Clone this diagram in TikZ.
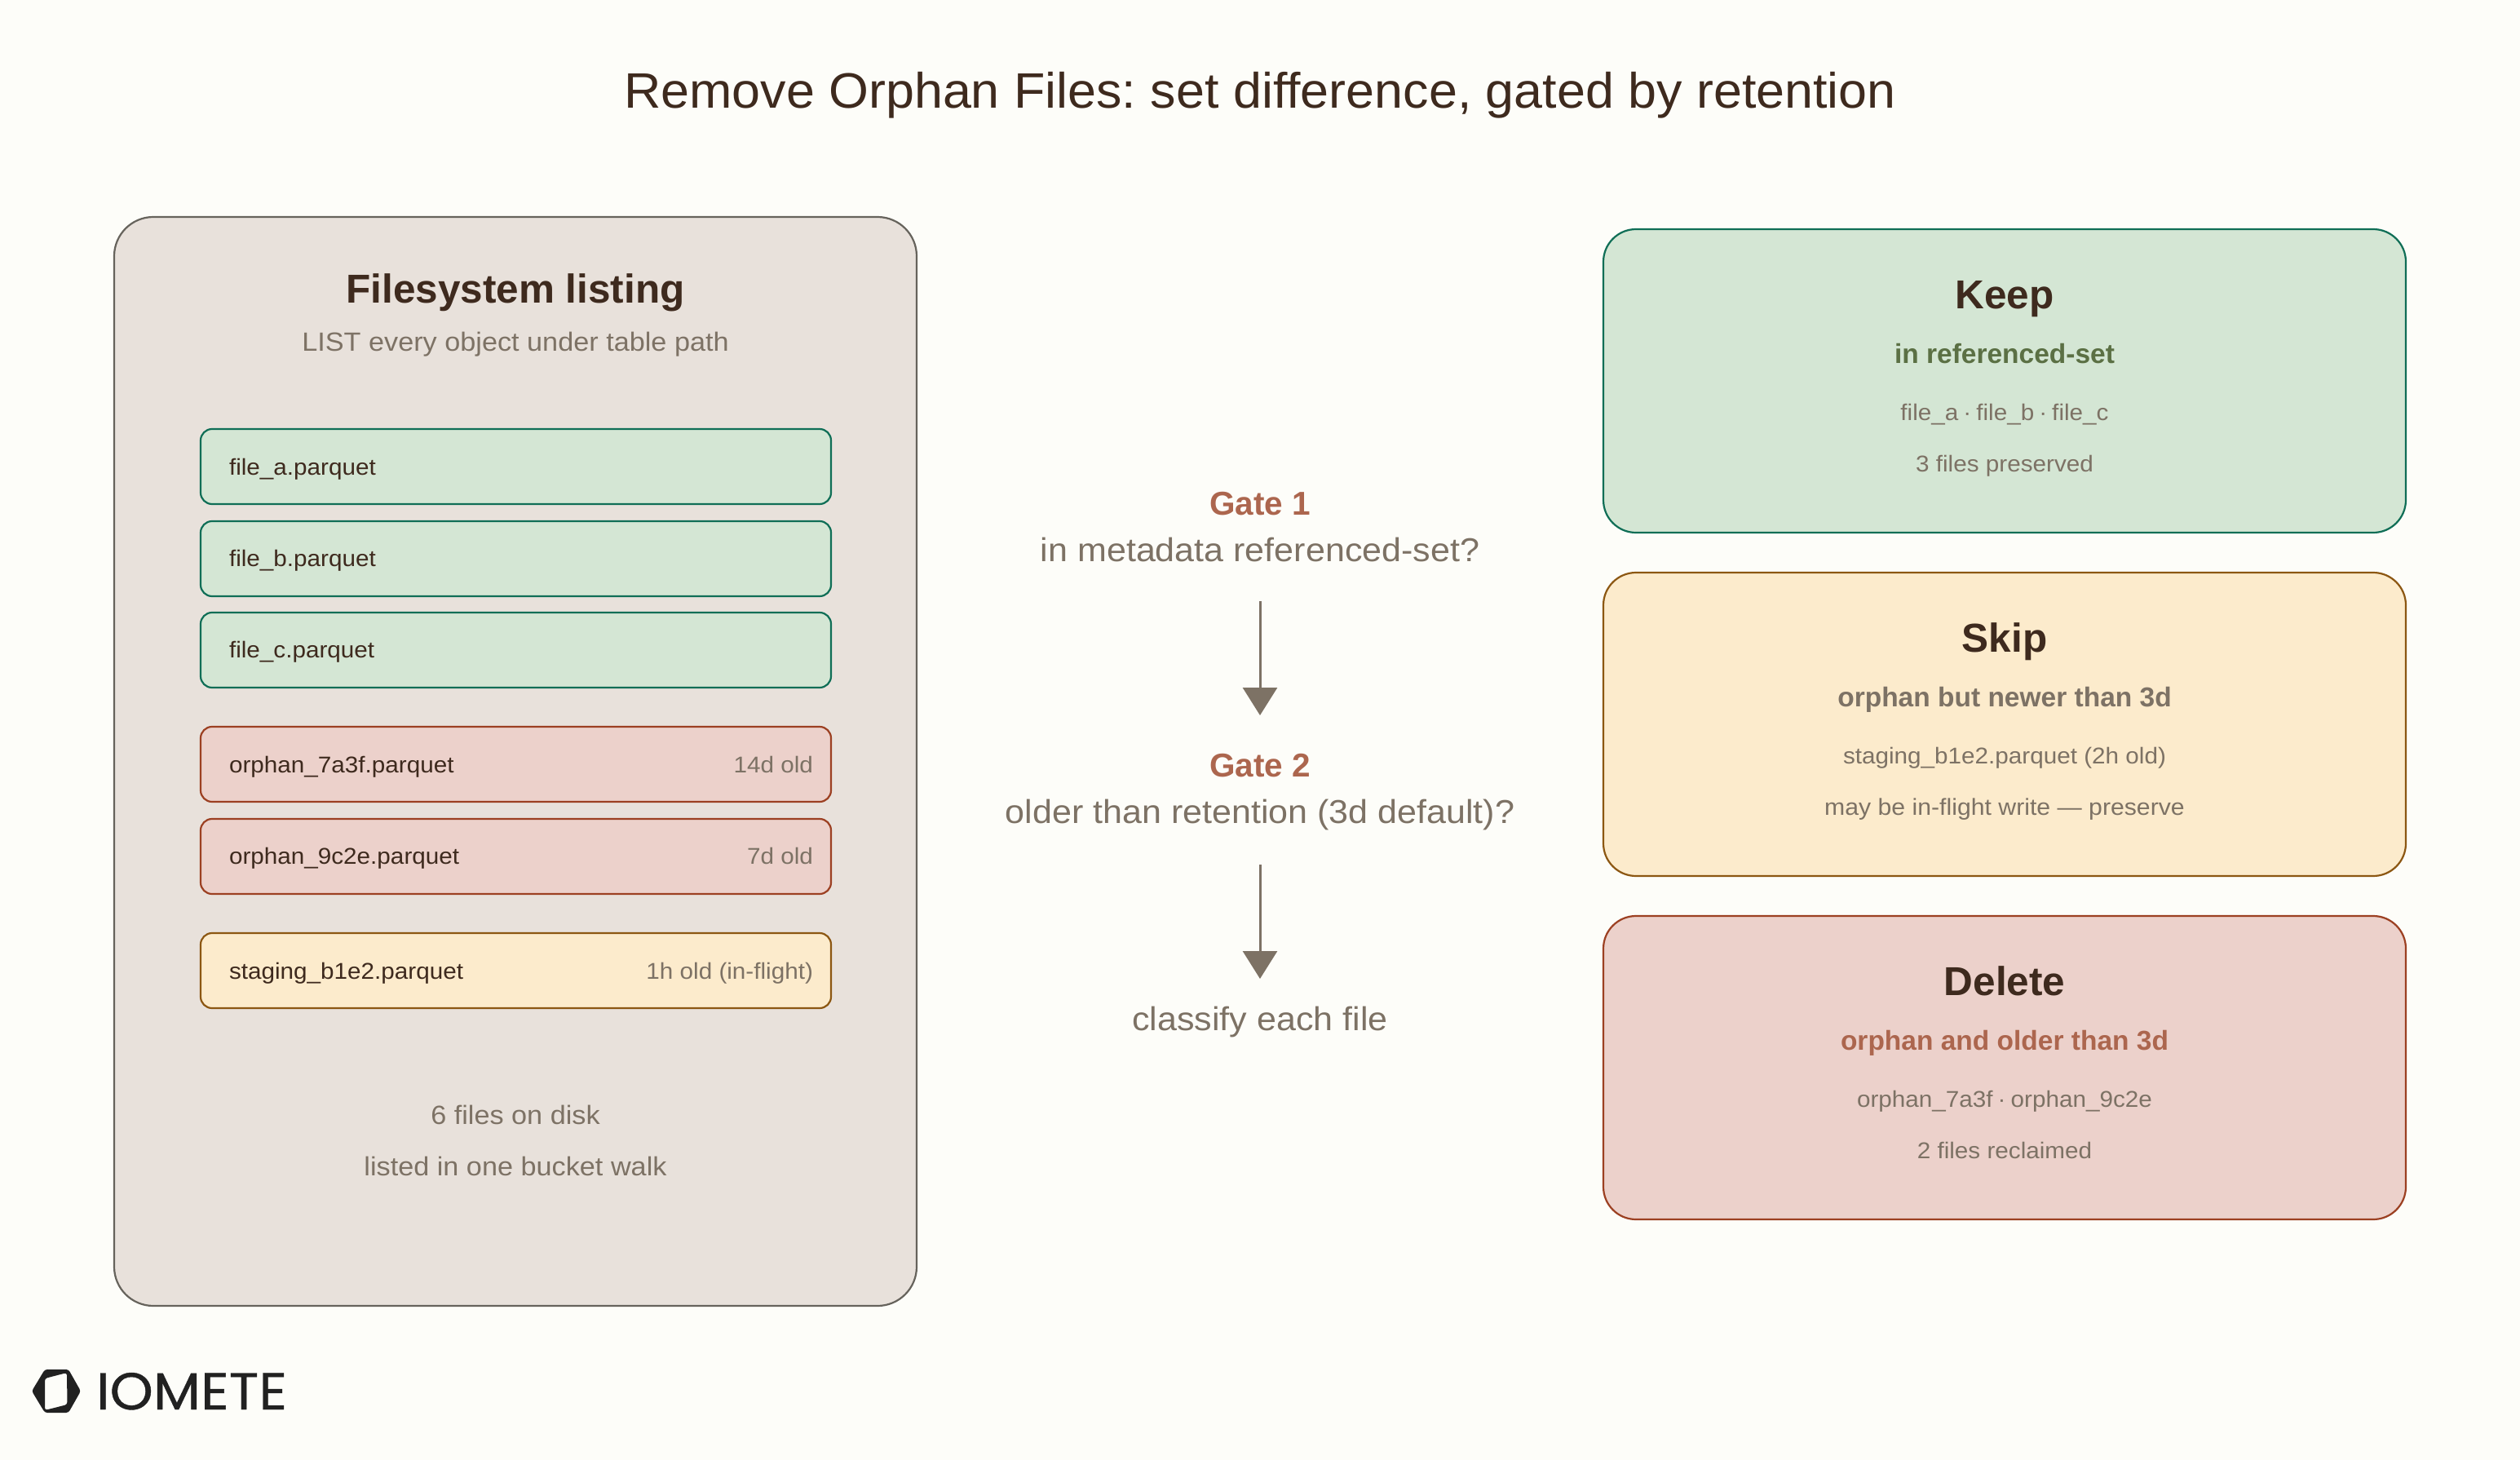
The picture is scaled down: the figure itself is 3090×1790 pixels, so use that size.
\documentclass[tikz,border=0pt]{standalone}
\usepackage{fontspec}
\setmainfont[FakeStretch=1.06]{Liberation Sans}
\newfontfamily\hb{Liberation Sans}
\newfontfamily\tf[FakeStretch=1.03]{Liberation Sans}
\newfontfamily\logofont[FakeBold=0.6]{Poppins}
\usetikzlibrary{arrows.meta}
\definecolor{bgc}{HTML}{FDFDF9}
\definecolor{ink}{HTML}{3E2A1E}
\definecolor{mut}{HTML}{7D7265}
\definecolor{clay}{HTML}{AC664E}
\definecolor{moss}{HTML}{5B7044}
\definecolor{panelf}{HTML}{E8E1DB}
\definecolor{panels}{HTML}{66635C}
\definecolor{grnf}{HTML}{D4E6D4}
\definecolor{grns}{HTML}{0F6E56}
\definecolor{redf}{HTML}{ECD1CB}
\definecolor{reds}{HTML}{9C4022}
\definecolor{ylwf}{HTML}{FCEBCC}
\definecolor{ylws}{HTML}{8C5712}
\newcommand{\mdot}{\kern-2.2pt·\kern-2.2pt}
\tikzset{
  x=1pt,y=-1pt,
  boxbase/.style={rectangle,inner sep=0pt,outer sep=0pt,anchor=north west,line width=2.2pt},
  panelbox/.style={boxbase,draw=panels,fill=panelf,minimum width=984pt,minimum height=1335pt,rounded corners=48pt},
  filebox/.style={boxbase,minimum width=773pt,minimum height=92pt,rounded corners=14pt},
  outbox/.style={boxbase,minimum width=984pt,minimum height=372pt,rounded corners=40pt},
  grn/.style={draw=grns,fill=grnf},
  red/.style={draw=reds,fill=redf},
  ylw/.style={draw=ylws,fill=ylwf},
  tx/.style={inner sep=0pt,outer sep=0pt,anchor=base},
  titletx/.style={tx,text=ink,font=\tf\fontsize{61}{66}\selectfont},
  headtx/.style={tx,text=ink,font=\hb\fontsize{49.5}{56}\selectfont\bfseries},
  subtx/.style={tx,font=\hb\fontsize{33.5}{38}\selectfont\bfseries},
  smalltx/.style={tx,text=mut,font=\fontsize{28}{34}\selectfont},
  listsub/.style={tx,text=mut,font=\fontsize{32.3}{38}\selectfont},
  gatehd/.style={tx,text=clay,font=\hb\fontsize{40.5}{46}\selectfont\bfseries},
  gatetx/.style={tx,text=mut,font=\fontsize{40.6}{46}\selectfont},
  fname/.style={tx,anchor=base west,text=ink,font=\fontsize{28}{34}\selectfont},
  fage/.style={tx,anchor=base east,text=mut,font=\fontsize{28}{34}\selectfont},
  flow/.style={draw=mut,line width=3pt,-{Triangle[length=34pt,width=42pt]}},
}
\begin{document}
\frenchspacing
\begin{tikzpicture}
\useasboundingbox (0,0) rectangle (3090,1790);
\fill[bgc] (0,0) rectangle (3090,1790);
\node[titletx] (title) at (1545,133) {Remove Orphan Files: set difference, gated by retention};
% left panel
\node[panelbox] (panel) at (140,266) {};
\node[headtx] (lhead) at (632,371) {Filesystem listing};
\node[listsub] (lsub) at (632,430) {LIST every object under table path};
\node[filebox,grn] (fa) at (246,526) {};
\node[filebox,grn] (fb) at (246,639) {};
\node[filebox,grn] (fc) at (246,751) {};
\node[filebox,red] (oa) at (246,891) {};
\node[filebox,red] (ob) at (246,1004) {};
\node[filebox,ylw] (st) at (246,1144) {};
\node[fname] (fat) at (281,582) {file\_a.parquet};
\node[fname] (fbt) at (281,694) {file\_b.parquet};
\node[fname] (fct) at (281,806) {file\_c.parquet};
\node[fname] (oat) at (281,947) {orphan\_7a3f.parquet};
\node[fname] (obt) at (281,1059) {orphan\_9c2e.parquet};
\node[fname] (stt) at (281,1200) {staging\_b1e2.parquet};
\node[fage] (oaa) at (997,947) {14d old};
\node[fage] (oba) at (997,1059) {7d old};
\node[fage] (sta) at (997,1200) {1h old (in-flight)};
\node[smalltx,font=\fontsize{32.3}{38}\selectfont] (la) at (632,1378) {6 files on disk};
\node[smalltx,font=\fontsize{32.3}{38}\selectfont] (lb) at (632,1441) {listed in one bucket walk};
% gates
\node[gatehd] (g1) at (1545,631) {Gate 1};
\node[gatetx] (g1t) at (1545,688) {in metadata referenced-set?};
\node[gatehd] (g2) at (1545,952) {Gate 2};
\node[gatetx] (g2t) at (1545,1009) {older than retention (3d default)?};
\node[gatetx] (cl) at (1545,1263) {classify each file};
\coordinate (a1s) at (1545,737);
\coordinate (a1e) at (1545,877);
\coordinate (a2s) at (1545,1060);
\coordinate (a2e) at (1545,1200);
\draw[flow] (a1s) -- (a1e);
\draw[flow] (a2s) -- (a2e);
% outcomes
\node[outbox,grn] (keep) at (1966,281) {};
\node[outbox,ylw] (skip) at (1966,702) {};
\node[outbox,red] (del) at (1966,1123) {};
\node[headtx] (k1) at (2458,378) {Keep};
\node[subtx,text=moss] (k2) at (2458,445) {in referenced-set};
\node[smalltx] (k3) at (2458,515) {file\_a \mdot{} file\_b \mdot{} file\_c};
\node[smalltx] (k4) at (2458,578) {3 files preserved};
\node[headtx] (s1) at (2458,799) {Skip};
\node[subtx,text=mut] (s2) at (2458,866) {orphan but newer than 3d};
\node[smalltx] (s3) at (2458,936) {staging\_b1e2.parquet (2h old)};
\node[smalltx,font=\fontsize{28.5}{34}\selectfont] (s4) at (2458,999) {may be in-flight write — preserve};
\node[headtx] (d1) at (2458,1220) {Delete};
\node[subtx,text=clay] (d2) at (2458,1287) {orphan and older than 3d};
\node[smalltx] (d3) at (2458,1357) {orphan\_7a3f \mdot{} orphan\_9c2e};
\node[smalltx] (d4) at (2458,1420) {2 files reclaimed};
% logo
\fill[even odd rule,fill=black!87,rounded corners=3pt] (39,1705.5) -- (55,1679) -- (84,1679) -- (99,1705.5) -- (84,1732) -- (55,1732) -- cycle
  (55,1690) -- (82,1683) -- (82.5,1722) -- (55,1729) -- cycle;
\node[tx,anchor=base west,text=black!87] (logo) at (118,1728) {\resizebox{234pt}{45pt}{\logofont IOMETE}};
\end{tikzpicture}
\end{document}
